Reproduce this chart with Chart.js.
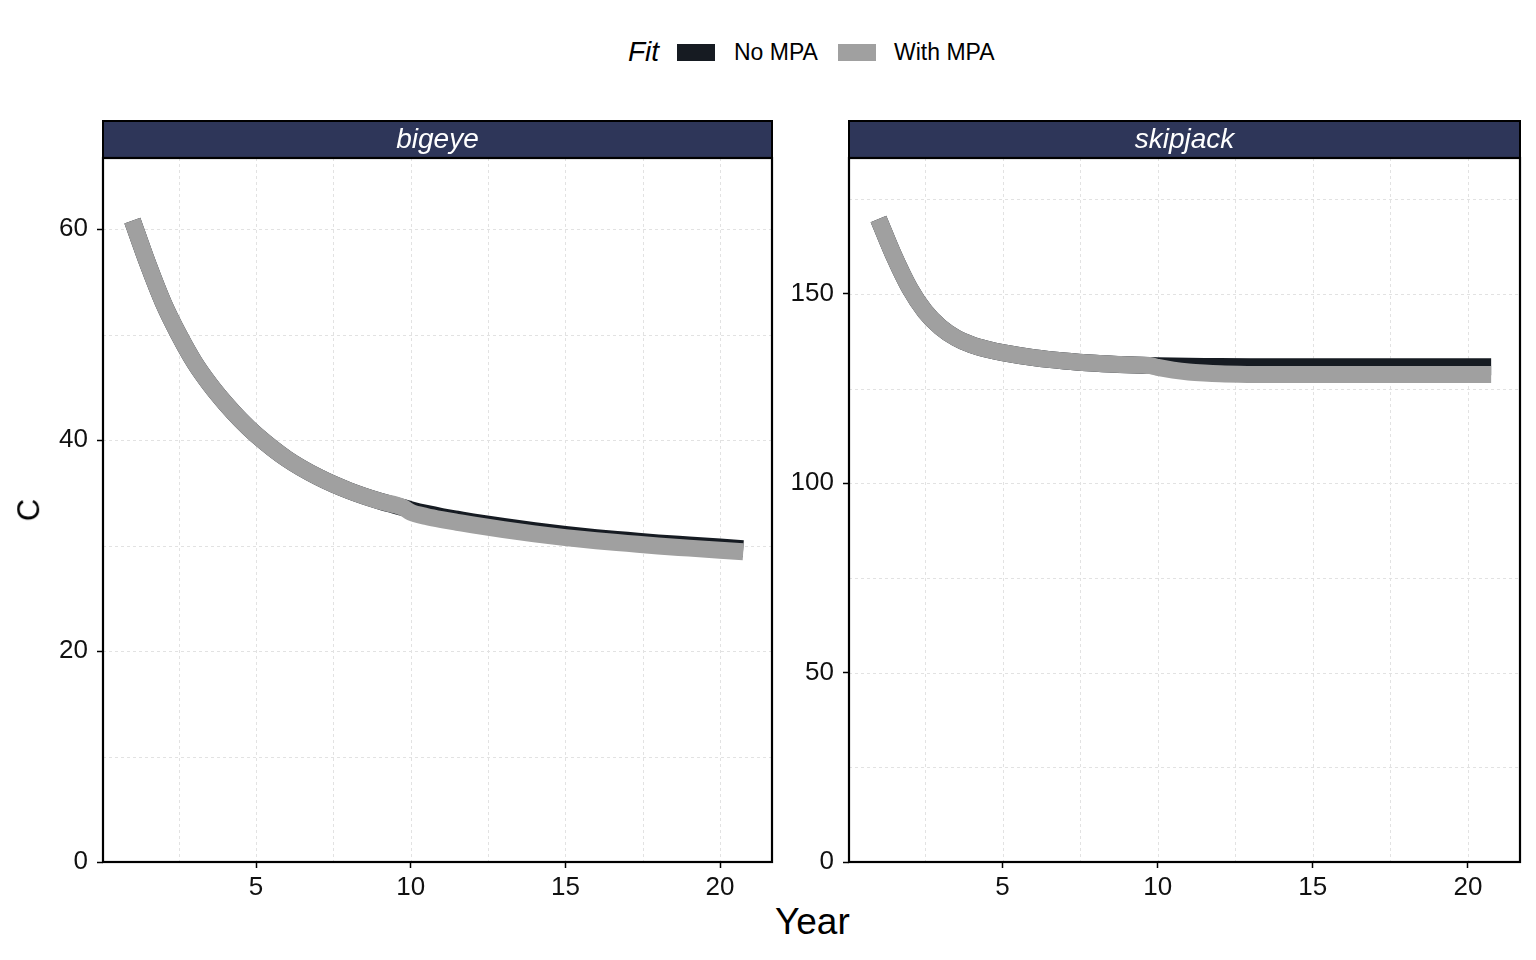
<!DOCTYPE html>
<html>
<head>
<meta charset="utf-8">
<script src="https://cdn.jsdelivr.net/npm/chart.js@4.4.1/dist/chart.umd.min.js"></script>
<style>
  body { margin: 0; background: #fff; font-family: "Liberation Sans", Arial, sans-serif; }
  #wrap { position: relative; width: 1536px; height: 960px; overflow: hidden; }
  canvas { position: absolute; }
  .lbl { position: absolute; color: #000; white-space: nowrap; }
  .key { position: absolute; width: 38px; height: 17px; top: 44px; }
</style>
</head>
<body>
<div id="wrap">
  <div class="lbl" style="left:628px; top:36px; font-size:28px; font-style:italic;">Fit</div>
  <div class="key" style="left:677px; background:#161b22;"></div>
  <div class="lbl" style="left:734px; top:39px; font-size:23px;">No MPA</div>
  <div class="key" style="left:838px; background:#a0a0a0;"></div>
  <div class="lbl" style="left:894px; top:39px; font-size:23px;">With MPA</div>

  <canvas id="bigeye" width="785" height="800" style="left:0px; top:100px;"></canvas>
  <canvas id="skipjack" width="751" height="800" style="left:785px; top:100px;"></canvas>

  <div class="lbl" style="left:18px; top:492px; font-size:31px; transform:rotate(-90deg); transform-origin:center;">C</div>
  <div class="lbl" style="left:775px; top:901px; font-size:37px;">Year</div>
</div>

<script>
// Dữ liệu ---------------------------------------------------------------
const years = [1, 1.5, 2, 2.5, 3, 3.5, 4, 4.5, 5, 6, 7, 8, 9, 9.75, 10, 10.5, 11, 11.5, 12, 13, 14, 15, 16, 17, 18, 19, 20, 20.75];

const bigeyeNoMpa   = [60.8, 56.7, 53.0, 50.0, 47.4, 45.3, 43.5, 41.9, 40.5, 38.2, 36.5, 35.2, 34.2, 33.6, 33.4, 33.05, 32.75, 32.5, 32.25, 31.8, 31.4, 31.05, 30.75, 30.5, 30.25, 30.05, 29.85, 29.7];
const bigeyeWithMpa = [60.8, 56.7, 53.0, 50.0, 47.4, 45.3, 43.5, 41.9, 40.5, 38.2, 36.5, 35.2, 34.2, 33.6, 33.15, 32.75, 32.45, 32.2, 31.95, 31.5, 31.1, 30.75, 30.45, 30.2, 29.95, 29.75, 29.55, 29.4];

const skipjackNoMpa   = [169.8, 160.0, 151.6, 145.4, 141.2, 138.4, 136.6, 135.4, 134.5, 133.2, 132.3, 131.7, 131.3, 131.1, 131.05, 130.97, 130.9, 130.85, 130.82, 130.8, 130.8, 130.8, 130.8, 130.8, 130.8, 130.8, 130.8, 130.8];
const skipjackWithMpa = [169.8, 160.0, 151.6, 145.4, 141.2, 138.4, 136.6, 135.4, 134.5, 133.2, 132.3, 131.7, 131.3, 131.1, 130.6, 129.9, 129.4, 129.1, 128.9, 128.75, 128.7, 128.7, 128.7, 128.7, 128.7, 128.7, 128.7, 128.7];

const xTicks = [5, 10, 15, 20];
const xMinor = [2.5, 7.5, 12.5, 17.5];
const bigeyeYTicks = [0, 20, 40, 60];
const bigeyeYMinor = [10, 30, 50];
const skipjackYTicks = [0, 50, 100, 150];
const skipjackYMinor = [25, 75, 125, 175];

const mauNoMpa = "#161b22";
const mauWithMpa = "#a0a0a0";
const fontChu = "'Liberation Sans', Arial, sans-serif";

// Plugin vẽ lưới, khung và dải tiêu đề
const panelPlugin = {
  id: "panel",
  beforeDatasetsDraw(chart, args, opts) {
    const { ctx, chartArea: a, scales } = chart;
    ctx.save();
    ctx.beginPath();
    ctx.rect(a.left, a.top, a.right - a.left, a.bottom - a.top);
    ctx.clip();
    ctx.strokeStyle = "#e2e2e2";
    ctx.lineWidth = 1;
    ctx.setLineDash([3, 3]);
    xTicks.concat(xMinor).forEach(v => {
      const x = Math.round(scales.x.getPixelForValue(v)) + 0.5;
      ctx.beginPath(); ctx.moveTo(x, a.top); ctx.lineTo(x, a.bottom); ctx.stroke();
    });
    opts.yTicks.concat(opts.yMinor).forEach(v => {
      const y = Math.round(scales.y.getPixelForValue(v)) + 0.5;
      ctx.beginPath(); ctx.moveTo(a.left, y); ctx.lineTo(a.right, y); ctx.stroke();
    });
    ctx.restore();
  },
  afterDatasetsDraw(chart, args, opts) {
    const { ctx, chartArea: a } = chart;
    ctx.save();
    // dải tiêu đề
    const h = 37;
    ctx.fillStyle = "#2e3659";
    ctx.fillRect(a.left, a.top - h, a.right - a.left, h);
    ctx.strokeStyle = "#000";
    ctx.lineWidth = 2;
    ctx.strokeRect(a.left, a.top - h, a.right - a.left, h);
    ctx.fillStyle = "#fff";
    ctx.font = "italic 28px " + fontChu;
    ctx.textAlign = "center";
    ctx.textBaseline = "middle";
    ctx.fillText(opts.title, (a.left + a.right) / 2, a.top - h / 2 + 1);
    // khung
    ctx.lineWidth = 2.2;
    ctx.strokeRect(a.left, a.top, a.right - a.left, a.bottom - a.top);
    ctx.restore();
  }
};

function veBieuDo(id, title, noMpa, withMpa, yMax, yTicks, yMinor, yWidth, padRight) {
  const pairs = arr => years.map((x, i) => ({ x: x, y: arr[i] }));
  return new Chart(document.getElementById(id), {
    type: "line",
    data: {
      datasets: [
        { label: "No MPA", data: pairs(noMpa), borderColor: mauNoMpa, borderWidth: 17, order: 2 },
        { label: "With MPA", data: pairs(withMpa), borderColor: mauWithMpa, borderWidth: 17, order: 1 }
      ]
    },
    options: {
      responsive: false,
      animation: false,
      devicePixelRatio: 1,
      layout: { padding: { top: 58, right: padRight, left: 0, bottom: 0 } },
      elements: {
        point: { radius: 0, hoverRadius: 0 },
        line: { cubicInterpolationMode: "monotone", borderCapStyle: "butt", borderJoinStyle: "round", fill: false }
      },
      plugins: {
        legend: { display: false },
        tooltip: { enabled: false },
        panel: { title: title, yTicks: yTicks, yMinor: yMinor }
      },
      scales: {
        x: {
          type: "linear",
          min: 0.05,
          max: 21.68,
          afterBuildTicks: axis => { axis.ticks = xTicks.map(v => ({ value: v })); },
          afterFit: axis => { axis.height = 38; },
          ticks: { padding: 4, color: "#111", font: { size: 26, family: fontChu }, maxRotation: 0 },
          grid: { display: true, drawOnChartArea: false, drawTicks: true, tickLength: 6, tickColor: "#000", tickWidth: 1.5 },
          border: { display: false }
        },
        y: {
          type: "linear",
          min: 0,
          max: yMax,
          afterBuildTicks: axis => { axis.ticks = yTicks.map(v => ({ value: v })); },
          afterFit: axis => { axis.width = yWidth; },
          ticks: { padding: 9, color: "#111", font: { size: 26, family: fontChu } },
          grid: { display: true, drawOnChartArea: false, drawTicks: true, tickLength: 6, tickColor: "#000", tickWidth: 1.5 },
          border: { display: false }
        }
      }
    },
    plugins: [panelPlugin]
  });
}

veBieuDo("bigeye", "bigeye", bigeyeNoMpa, bigeyeWithMpa, 66.73, bigeyeYTicks, bigeyeYMinor, 103, 13);
veBieuDo("skipjack", "skipjack", skipjackNoMpa, skipjackWithMpa, 185.9, skipjackYTicks, skipjackYMinor, 64, 16);
</script>
</body>
</html>
